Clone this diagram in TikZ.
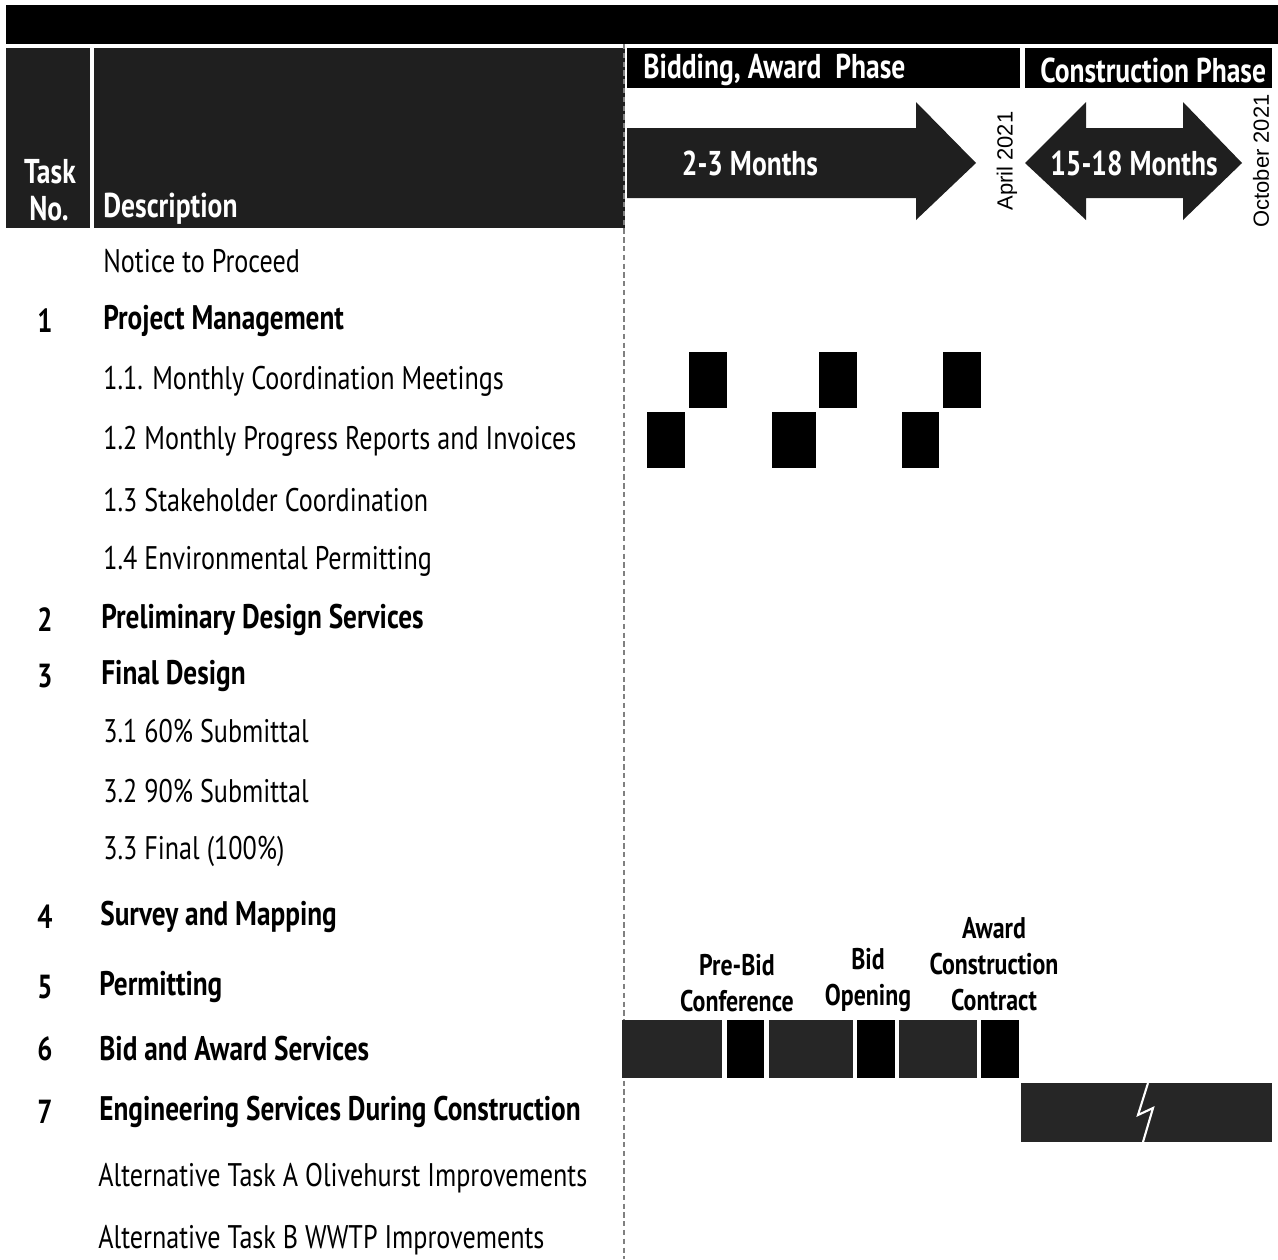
\documentclass[tikz,border=0pt]{standalone}
\usepackage{fontspec}
\setmainfont{PT Sans}[FakeStretch=0.8]
\newfontfamily\datefont{Liberation Sans}
\begin{document}
\begin{tikzpicture}[x=0.02cm,y=-0.02cm,
    txt/.style={anchor=west,inner sep=0pt,font=\fontsize{18.6}{20}\selectfont},
    hd/.style={anchor=west,inner sep=0pt,font=\fontsize{19.4}{21}\selectfont\bfseries},
    num/.style={inner sep=0pt,font=\fontsize{19}{21}\selectfont\bfseries},
    wt/.style={text=white,inner sep=0pt,font=\fontsize{19.6}{21}\selectfont\bfseries},
    dt/.style={rotate=90,inner sep=0pt,font=\fontsize{12.5}{14}\selectfont\datefont},
    lbl/.style={align=center,inner sep=0pt,font=\fontsize{17}{20.5}\selectfont\bfseries},
    dk/.style={fill=black!85,draw=none},
    sb/.style={fill=black,draw=none}]
    \useasboundingbox (0,0) rectangle (1278,1259);

    % header
    \fill[black] (6,5) rectangle (1278,44);
    \fill[black!88] (6,48) rectangle (90,228);
    \fill[black!88] (94,48) rectangle (625,228);
    \fill[black] (627,48) rectangle (1020,88);
    \fill[black] (1025,48) rectangle (1272,88);
    \draw[gray,densely dashed,line width=0.6pt] (624,44) -- (624,1259);

    \node[wt] (task) at (50,172) {Task};
    \node[wt] (no) at (49,209) {No.};
    \node[wt,anchor=west] (desc) at (103,209) {Description};
    \node[wt,anchor=west] (bid) at (643,70) {Bidding, Award\ \ Phase};
    \node[wt,anchor=west] (con) at (1040,70) {Construction Phase};

    % phase arrows
    \fill[black!88] (627,128) -- (916,128) -- (916,102) -- (976,163) -- (916,220)
        -- (916,198) -- (627,198) -- cycle;
    \fill[black!88] (1025,163) -- (1086,102) -- (1086,128) -- (1183,128) -- (1183,102)
        -- (1242,163) -- (1183,220) -- (1183,198) -- (1086,198) -- (1086,220) -- cycle;
    \node[wt] (m1) at (750,163) {2-3 Months};
    \node[wt] (m2) at (1134,163) {15-18 Months};
    \node[dt] (apr) at (1007,161) {April 2021};
    \node[dt] (oct) at (1261,161) {October 2021};

    % tasks
    \node[txt] (ntp) at (103,261) {Notice to Proceed};
    \node[num] (n1) at (45,321) {1};
    \node[hd] (t1) at (103,321) {Project Management};
    \node[txt] (t11) at (103,381) {1.1. Monthly Coordination Meetings};
    \node[txt] (t12) at (103,441) {1.2 Monthly Progress Reports and Invoices};
    \node[txt] (t13) at (103,500) {1.3 Stakeholder Coordination};
    \node[txt] (t14) at (103,561) {1.4 Environmental Permitting};
    \node[num] (n2) at (45,620) {2};
    \node[hd] (t2) at (101,620) {Preliminary Design Services};
    \node[num] (n3) at (45,676) {3};
    \node[hd] (t3) at (101,676) {Final Design};
    \node[txt] (t31) at (103,731) {3.1 60\% Submittal};
    \node[txt] (t32) at (103,791) {3.2 90\% Submittal};
    \node[txt] (t33) at (103,851) {3.3 Final (100\%)};
    \node[num] (n4) at (45,917) {4};
    \node[hd] (t4) at (100,917) {Survey and Mapping};
    \node[num] (n5) at (45,987) {5};
    \node[hd] (t5) at (99,987) {Permitting};
    \node[num] (n6) at (45,1049) {6};
    \node[hd] (t6) at (99,1049) {Bid and Award Services};
    \node[num] (n7) at (45,1112) {7};
    \node[hd] (t7) at (99,1112) {Engineering Services During Construction};
    \node[txt] (ta) at (98,1178) {Alternative Task A Olivehurst Improvements};
    \node[txt] (tb) at (98,1240) {Alternative Task B WWTP Improvements};

    % bars
    \fill[sb] (689,352) rectangle (727,408);
    \fill[sb] (819,352) rectangle (857,408);
    \fill[sb] (943,352) rectangle (981,408);
    \fill[sb] (647,412) rectangle (685,468);
    \fill[sb] (772,412) rectangle (816,468);
    \fill[sb] (902,412) rectangle (939,468);

    \fill[dk] (622,1020) rectangle (722,1078);
    \fill[sb] (727,1020) rectangle (764,1078);
    \fill[dk] (769,1020) rectangle (853,1078);
    \fill[sb] (857,1020) rectangle (895,1078);
    \fill[dk] (899,1020) rectangle (977,1078);
    \fill[sb] (981,1020) rectangle (1019,1078);
    \fill[dk] (1021,1083) rectangle (1272,1142);
    \draw[white,line width=1.2pt] (1148,1083) -- (1138,1115) -- (1153,1108) -- (1143,1142);

    \node[lbl] (pre) at (737,983) {Pre-Bid\\Conference};
    \node[lbl] (bo) at (868,980) {Bid\\Opening};
    \node[lbl] (awd) at (994,964) {Award\\Construction\\Contract};
\end{tikzpicture}
\end{document}
